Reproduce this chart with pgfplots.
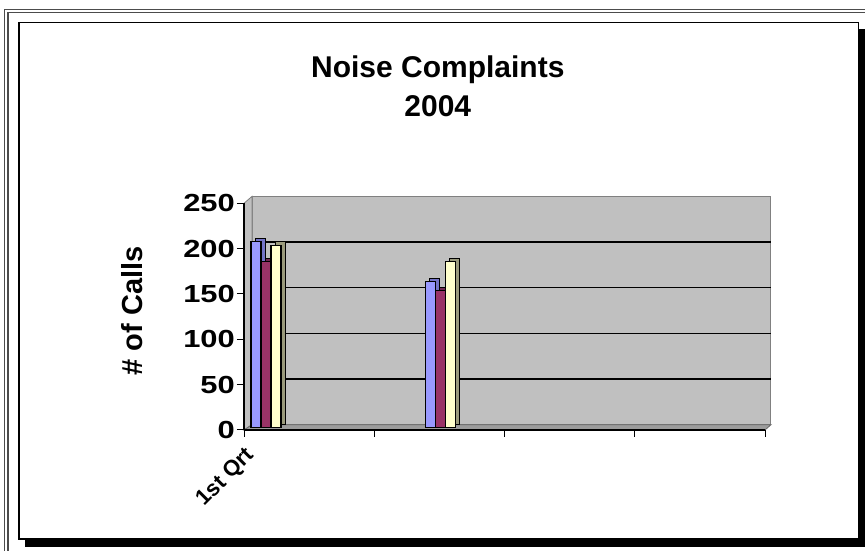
\documentclass[border=0pt]{standalone}
\usepackage{fontspec}
\setmainfont{Liberation Sans}
\usepackage{pgfplots}
\pgfplotsset{compat=1.18}
\definecolor{sblue}{HTML}{9999FF}
\definecolor{sred}{HTML}{993366}
\definecolor{syellow}{HTML}{FFFFCC}
\definecolor{dblue}{HTML}{7373C6}
\definecolor{dred}{HTML}{702650}
\definecolor{dyellow}{HTML}{9A9A7C}
\definecolor{wallgray}{HTML}{C0C0C0}
\definecolor{floorgray}{HTML}{9C9C9C}
\begin{document}
\begin{tikzpicture}
\path[use as bounding box] (0pt,0pt) rectangle (865pt,551pt);
\draw[line width=1.2pt, black!70] (4.5pt,0pt) -- (4.5pt,541.5pt) -- (865pt,541.5pt);
\draw[line width=1.2pt, black!70] (8pt,0pt) -- (8pt,538.3pt) -- (865pt,538.3pt);
\fill[black] (25pt,4pt) rectangle (865pt,522pt);
\filldraw[fill=white, draw=black, line width=1.2pt] (19pt,12pt) rectangle (858.3pt,528.3pt);
\begin{axis}[
  at={(244pt,121pt)}, anchor=origin, scale only axis,
  width=521pt, height=226.7pt,
  xmin=0, xmax=4, ymin=0, ymax=250, clip=false,
  axis lines*=left, axis on top,
  axis line style={black, line width=1.2pt},
  tick align=outside, major tick length=7pt,
  tick style={black, line width=1pt},
  xtick={0,1,2,3,4}, xticklabels={,,,,},
  ytick={0,50,100,150,200,250},
  yticklabel={\scalebox{1.25}[1]{\pgfmathprintnumber[assume math mode=true]{\tick}}},
  yticklabel style={font=\fontsize{24.7}{25}\selectfont\bfseries, inner sep=2pt},
  extra x ticks={0.169}, extra x tick labels={1st Qrt},
  extra x tick style={major tick length=0pt,
    xticklabel style={xshift=-22pt, yshift=-14pt, rotate=45, anchor=north east, inner sep=1pt,
      font=\fontsize{22}{23}\selectfont\bfseries}},
  ylabel={\# of Calls},
  ylabel style={font=\fontsize{29}{30}\selectfont\bfseries,
    at={(axis description cs:-0.215,0.525)}, anchor=center},
  title={Noise Complaints\\2004},
  title style={font=\fontsize{30}{39.3}\selectfont\bfseries, align=center,
    at={(axis description cs:0.372,1.489)}, anchor=center},
]
% back wall, side wall, floor
\filldraw[fill=wallgray, draw=black!50, line width=1pt] (axis cs:0.062,5.84) rectangle (axis cs:4.046,257.7);
\filldraw[fill=wallgray, draw=black!50, line width=0.8pt] (axis cs:0,0) -- (axis cs:0.062,5.84) -- (axis cs:0.062,257.7) -- (axis cs:0,250) -- cycle;
\filldraw[fill=floorgray, draw=black!60, line width=0.8pt] (axis cs:0,0) -- (axis cs:4,0) -- (axis cs:4.046,5.84) -- (axis cs:0.062,5.84) -- cycle;
\draw[black, line width=1.2pt] (axis cs:0.062,56.2) -- (axis cs:4.046,56.2);
\draw[black, line width=1.2pt] (axis cs:0.062,106.6) -- (axis cs:4.046,106.6);
\draw[black, line width=1.2pt] (axis cs:0.062,157.0) -- (axis cs:4.046,157.0);
\draw[black, line width=1.2pt] (axis cs:0.062,207.3) -- (axis cs:4.046,207.3);
% series 1
\addplot[ybar, bar width=10pt, bar shift=-6pt, yshift=6pt, fill=dblue, draw=black, line width=0.9pt]
  coordinates {(0.169,205) (1.506,161)};
\addplot[ybar, bar width=10pt, bar shift=-10pt, yshift=2.5pt, fill=sblue, draw=black, line width=1.2pt]
  coordinates {(0.169,205) (1.506,161)};
% series 2
\addplot[ybar, bar width=10pt, bar shift=4pt, yshift=6pt, fill=dred, draw=black, line width=0.9pt]
  coordinates {(0.169,183) (1.506,151)};
\addplot[ybar, bar width=10pt, bar shift=0pt, yshift=2.5pt, fill=sred, draw=black, line width=1.2pt]
  coordinates {(0.169,183) (1.506,151)};
% series 3
\addplot[ybar, bar width=10pt, bar shift=14pt, yshift=6pt, fill=dyellow, draw=black, line width=0.9pt]
  coordinates {(0.169,201) (1.506,183)};
\addplot[ybar, bar width=10pt, bar shift=10pt, yshift=2.5pt, fill=syellow, draw=black, line width=1.2pt]
  coordinates {(0.169,201) (1.506,183)};
\end{axis}
\end{tikzpicture}
\end{document}
